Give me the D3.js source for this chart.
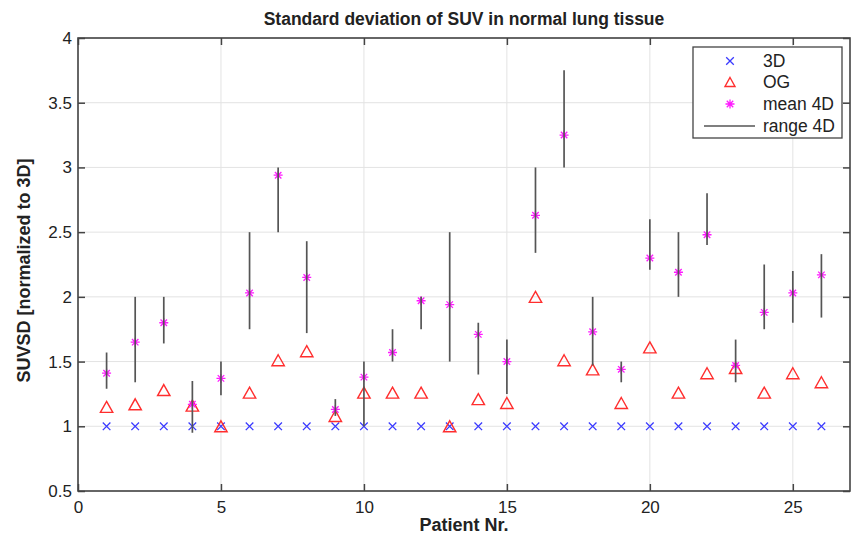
<!DOCTYPE html>
<html>
<head>
<meta charset="utf-8">
<script src="https://cdn.jsdelivr.net/npm/d3@7"></script>
<style>
  body { margin: 0; background: #fff; }
  text { font-family: "Liberation Sans", Arial, sans-serif; fill: #222; }
</style>
</head>
<body>
<svg id="chart" width="851" height="536"></svg>
<script>
// patient numbers and values
var patients = d3.range(1, 27);
var val3D  = [1,1,1,1,1,1,1,1,1,1,1,1,1,1,1,1,1,1,1,1,1,1,1,1,1,1];
var valOG  = [1.15,1.17,1.28,1.16,1.00,1.26,1.51,1.58,1.08,1.26,1.26,1.26,1.00,1.21,1.18,2.00,1.51,1.44,1.18,1.61,1.26,1.41,1.45,1.26,1.41,1.34];
var mean4D = [1.41,1.65,1.80,1.17,1.37,2.03,2.94,2.15,1.13,1.38,1.57,1.97,1.94,1.71,1.50,2.63,3.25,1.73,1.44,2.30,2.19,2.48,1.47,1.88,2.03,2.17];
var min4D  = [1.29,1.34,1.64,0.95,1.24,1.75,2.50,1.72,1.08,1.00,1.50,1.75,1.50,1.40,1.25,2.34,3.00,1.47,1.34,2.21,2.00,2.40,1.34,1.75,1.80,1.84];
var max4D  = [1.57,2.00,2.00,1.35,1.50,2.50,3.00,2.43,1.21,1.50,1.75,2.00,2.50,1.80,1.67,3.00,3.75,2.00,1.50,2.60,2.50,2.80,1.67,2.25,2.20,2.33];
var xTicks = [0,5,10,15,20,25];
var yTicks = [0.5,1,1.5,2,2.5,3,3.5,4];
var legendLabels = ['3D','OG','mean 4D','range 4D'];

var svg = d3.select('#chart');
var L = 78, T = 38, R = 850, B = 491;

var x = d3.scaleLinear().domain([0, 27]).range([L, R]);
var y = d3.scaleLinear().domain([0.5, 4]).range([B, T]);

// grid
var g = svg.append('g');
g.selectAll('.gx').data(xTicks).enter().append('line')
  .attr('x1', d => x(d)).attr('x2', d => x(d)).attr('y1', T).attr('y2', B)
  .attr('stroke', '#e3e3e3').attr('stroke-width', 1);
g.selectAll('.gy').data(yTicks).enter().append('line')
  .attr('x1', L).attr('x2', R).attr('y1', d => y(d)).attr('y2', d => y(d))
  .attr('stroke', '#e3e3e3').attr('stroke-width', 1);

// axes (ticks pointing inward, box on)
function styleAxis(sel) {
  sel.select('.domain').remove();
  sel.selectAll('.tick line').attr('stroke', '#444').attr('stroke-width', 1.5);
  sel.selectAll('.tick text').style('font-size', '17px').attr('fill', '#222');
}
var fmt = d => String(d);
svg.append('g').attr('transform', 'translate(0,' + B + ')')
  .call(d3.axisBottom(x).tickValues(xTicks).tickFormat(fmt).tickSizeInner(-7).tickPadding(10))
  .call(styleAxis);
svg.append('g').attr('transform', 'translate(0,' + T + ')')
  .call(d3.axisTop(x).tickValues(xTicks).tickSizeInner(-7).tickFormat(''))
  .call(styleAxis);
svg.append('g').attr('transform', 'translate(' + L + ',0)')
  .call(d3.axisLeft(y).tickValues(yTicks).tickFormat(fmt).tickSizeInner(-7).tickPadding(6))
  .call(styleAxis);
svg.append('g').attr('transform', 'translate(' + R + ',0)')
  .call(d3.axisRight(y).tickValues(yTicks).tickSizeInner(-7).tickFormat(''))
  .call(styleAxis);

svg.append('rect').attr('x', L).attr('y', T).attr('width', R - L).attr('height', B - T)
  .attr('fill', 'none').attr('stroke', '#444').attr('stroke-width', 1.6);

// marker shapes
var blue = '#3a3aff', red = '#ff2e2e', mag = '#ff1aff', gray = '#555';
function crossPath(s) { return 'M' + -s + ',' + -s + 'L' + s + ',' + s + 'M' + -s + ',' + s + 'L' + s + ',' + -s; }
function triPath(w, h) { return 'M0,' + (-h) + 'L' + w + ',' + h + 'L' + (-w) + ',' + h + 'Z'; }
function starPath(s) {
  var d = s * 0.72;
  return 'M' + -s + ',0L' + s + ',0M0,' + -s + 'L0,' + s +
         'M' + -d + ',' + -d + 'L' + d + ',' + d + 'M' + -d + ',' + d + 'L' + d + ',' + -d;
}

var plot = svg.append('g');
plot.selectAll('.p3d').data(patients).enter().append('path')
  .attr('transform', (d, i) => 'translate(' + x(d) + ',' + y(val3D[i]) + ')')
  .attr('d', crossPath(3.8)).attr('stroke', blue).attr('stroke-width', 1.3).attr('fill', 'none');
plot.selectAll('.pog').data(patients).enter().append('path')
  .attr('transform', (d, i) => 'translate(' + x(d) + ',' + y(valOG[i]) + ')')
  .attr('d', triPath(6.2, 5.5)).attr('stroke', red).attr('stroke-width', 1.4).attr('fill', 'none');
plot.selectAll('.pmean').data(patients).enter().append('path')
  .attr('transform', (d, i) => 'translate(' + x(d) + ',' + y(mean4D[i]) + ')')
  .attr('d', starPath(4.5)).attr('stroke', mag).attr('stroke-width', 1.3).attr('fill', 'none');
plot.selectAll('.prange').data(patients).enter().append('line')
  .attr('x1', d => x(d)).attr('x2', d => x(d))
  .attr('y1', (d, i) => y(min4D[i])).attr('y2', (d, i) => y(max4D[i]))
  .attr('stroke', gray).attr('stroke-width', 1.7);

// titles
svg.append('text').attr('x', (L + R) / 2).attr('y', 25).attr('text-anchor', 'middle')
  .style('font-size', '17.5px').style('font-weight', 'bold')
  .text('Standard deviation of SUV in normal lung tissue');
svg.append('text').attr('x', (L + R) / 2).attr('y', 531).attr('text-anchor', 'middle')
  .style('font-size', '18px').style('font-weight', 'bold').text('Patient Nr.');
svg.append('text').attr('transform', 'translate(30,' + ((T + B) / 2 + 6) + ') rotate(-90)')
  .attr('text-anchor', 'middle')
  .style('font-size', '18px').style('font-weight', 'bold').text('SUVSD [normalized to 3D]');

// legend
var lg = svg.append('g').attr('transform', 'translate(693,47)');
lg.append('rect').attr('width', 149).attr('height', 91)
  .attr('fill', '#fff').attr('stroke', '#444').attr('stroke-width', 1.3);
var rowY = [14, 35, 57, 79];
var mx = 37;
lg.append('path').attr('transform', 'translate(' + mx + ',' + rowY[0] + ')')
  .attr('d', crossPath(3.8)).attr('stroke', blue).attr('stroke-width', 1.3);
lg.append('path').attr('transform', 'translate(' + mx + ',' + rowY[1] + ')')
  .attr('d', triPath(5, 4.5)).attr('stroke', red).attr('stroke-width', 1.4).attr('fill', 'none');
lg.append('path').attr('transform', 'translate(' + mx + ',' + rowY[2] + ')')
  .attr('d', starPath(4.5)).attr('stroke', mag).attr('stroke-width', 1.3);
lg.append('line').attr('x1', 11).attr('x2', 62).attr('y1', rowY[3]).attr('y2', rowY[3])
  .attr('stroke', gray).attr('stroke-width', 1.7);
lg.selectAll('.lt').data(legendLabels).enter().append('text')
  .attr('x', 70).attr('y', (d, i) => rowY[i] + 6)
  .style('font-size', '17.5px').text(d => d);
</script>
</body>
</html>
